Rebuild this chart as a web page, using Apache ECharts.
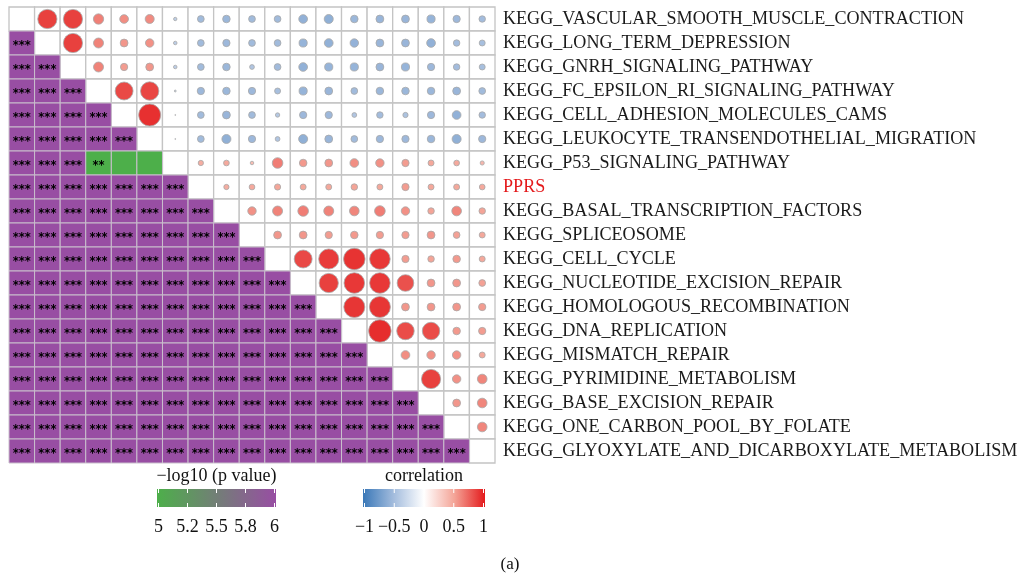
<!DOCTYPE html>
<html>
<head>
<meta charset="utf-8">
<script src="https://cdn.jsdelivr.net/npm/echarts@6/dist/echarts.min.js"></script>
<style>
  html, body { margin: 0; padding: 0; background: #fff; }
  #chart { width: 1021px; height: 576px; }
</style>
</head>
<body>
<div id="chart"></div>
<script>
// Pathway names (rows top to bottom, columns left to right)
const pathways = [
  'KEGG_VASCULAR_SMOOTH_MUSCLE_CONTRACTION',
  'KEGG_LONG_TERM_DEPRESSION',
  'KEGG_GNRH_SIGNALING_PATHWAY',
  'KEGG_FC_EPSILON_RI_SIGNALING_PATHWAY',
  'KEGG_CELL_ADHESION_MOLECULES_CAMS',
  'KEGG_LEUKOCYTE_TRANSENDOTHELIAL_MIGRATION',
  'KEGG_P53_SIGNALING_PATHWAY',
  'PPRS',
  'KEGG_BASAL_TRANSCRIPTION_FACTORS',
  'KEGG_SPLICEOSOME',
  'KEGG_CELL_CYCLE',
  'KEGG_NUCLEOTIDE_EXCISION_REPAIR',
  'KEGG_HOMOLOGOUS_RECOMBINATION',
  'KEGG_DNA_REPLICATION',
  'KEGG_MISMATCH_REPAIR',
  'KEGG_PYRIMIDINE_METABOLISM',
  'KEGG_BASE_EXCISION_REPAIR',
  'KEGG_ONE_CARBON_POOL_BY_FOLATE',
  'KEGG_GLYOXYLATE_AND_DICARBOXYLATE_METABOLISM'
];
const highlighted = 'PPRS';

// Correlation, upper triangle: row i holds columns i+1 .. 18
const corrUpper = [
  [0.86, 0.86, 0.63, 0.58, 0.59, -0.36, -0.51, -0.54, -0.51, -0.51, -0.58, -0.59, -0.54, -0.55, -0.55, -0.56, -0.53, -0.50],
  [0.86, 0.62, 0.55, 0.57, -0.37, -0.51, -0.53, -0.51, -0.51, -0.56, -0.58, -0.57, -0.55, -0.55, -0.58, -0.50, -0.48],
  [0.62, 0.53, 0.55, -0.37, -0.51, -0.54, -0.43, -0.51, -0.58, -0.56, -0.56, -0.55, -0.56, -0.53, -0.50, -0.48],
  [0.83, 0.84, -0.27, -0.53, -0.54, -0.53, -0.48, -0.56, -0.55, -0.51, -0.54, -0.54, -0.54, -0.55, -0.51],
  [0.92, -0.19, -0.51, -0.55, -0.51, -0.41, -0.53, -0.53, -0.43, -0.50, -0.45, -0.53, -0.58, -0.50],
  [-0.19, -0.51, -0.59, -0.53, -0.43, -0.59, -0.55, -0.51, -0.53, -0.53, -0.54, -0.59, -0.53],
  [0.45, 0.47, 0.37, 0.64, 0.54, 0.55, 0.58, 0.57, 0.53, 0.48, 0.47, 0.40],
  [0.45, 0.47, 0.49, 0.48, 0.48, 0.50, 0.48, 0.53, 0.48, 0.48, 0.47],
  [0.57, 0.62, 0.64, 0.62, 0.61, 0.64, 0.57, 0.50, 0.61, 0.50],
  [0.55, 0.55, 0.53, 0.54, 0.53, 0.53, 0.55, 0.51, 0.48],
  [0.83, 0.88, 0.91, 0.89, 0.53, 0.50, 0.54, 0.48],
  [0.86, 0.89, 0.89, 0.80, 0.55, 0.55, 0.51],
  [0.90, 0.90, 0.55, 0.55, 0.55, 0.53],
  [0.93, 0.82, 0.82, 0.54, 0.53],
  [0.58, 0.57, 0.57, 0.48],
  [0.86, 0.57, 0.61],
  [0.55, 0.61],
  [0.61]
];

// -log10(p value), lower triangle: row i holds columns 0 .. i-1
const logPLower = [
  [],
  [6],
  [6, 6],
  [6, 6, 6],
  [6, 6, 6, 6],
  [6, 6, 6, 6, 6],
  [6, 6, 6, 2.4, 0.9, 0.8],
  [6, 6, 6, 6, 6, 6, 6],
  [6, 6, 6, 6, 6, 6, 6, 6],
  [6, 6, 6, 6, 6, 6, 6, 6, 6],
  [6, 6, 6, 6, 6, 6, 6, 6, 6, 6],
  [6, 6, 6, 6, 6, 6, 6, 6, 6, 6, 6],
  [6, 6, 6, 6, 6, 6, 6, 6, 6, 6, 6, 6],
  [6, 6, 6, 6, 6, 6, 6, 6, 6, 6, 6, 6, 6],
  [6, 6, 6, 6, 6, 6, 6, 6, 6, 6, 6, 6, 6, 6],
  [6, 6, 6, 6, 6, 6, 6, 6, 6, 6, 6, 6, 6, 6, 6],
  [6, 6, 6, 6, 6, 6, 6, 6, 6, 6, 6, 6, 6, 6, 6, 6],
  [6, 6, 6, 6, 6, 6, 6, 6, 6, 6, 6, 6, 6, 6, 6, 6, 6],
  [6, 6, 6, 6, 6, 6, 6, 6, 6, 6, 6, 6, 6, 6, 6, 6, 6, 6]
];

// Legend tick labels
const pTicks = ['5', '5.2', '5.5', '5.8', '6'];
const corrTicks = ['\u22121', '\u22120.5', '0', '0.5', '1'];

const pColors = ['#4DAF4A', '#984EA3'];
const corrColors = ['#3A78B8', '#A3BCDD', '#FFFFFF', '#F4A497', '#E41A1C'];
const serif = '"Liberation Serif", "DejaVu Serif", serif';

// Build series data from the arrays
const n = pathways.length;
const blankCells = [];
const pCells = [];
const circles = [];
for (let i = 0; i < n; i++) {
  for (let j = 0; j < n; j++) {
    if (j < i) pCells.push([j, i, logPLower[i][j]]);
    else blankCells.push([j, i, 0]);
    if (j > i) circles.push([j, i, corrUpper[i][j - i - 1]]);
  }
}

function stars(v) {
  if (v > 3) return '***';
  if (v > 2) return '**';
  if (v > 1.301) return '*';
  return '';
}

function cellRect(api) {
  const c = api.coord([api.value(0), api.value(1)]);
  const s = api.size([1, 1]);
  return { x: c[0] - s[0] / 2, y: c[1] - s[1] / 2, width: s[0], height: s[1], cx: c[0], cy: c[1] };
}

const chart = echarts.init(document.getElementById('chart'));

// Legend colour bars
const gx1 = 157, gw1 = 119, gx2 = 363, gw2 = 122, gy = 489, gh = 18;
function legendGraphics(x, w, colors, ticks, title) {
  const stops = colors.map((c, k) => ({ offset: k / (colors.length - 1), color: c }));
  const els = [
    { type: 'text', x: x + w / 2, y: gy - 13, style: { text: title, font: '18px ' + serif, fill: '#111', align: 'center', verticalAlign: 'middle' } },
    { type: 'rect', shape: { x: x, y: gy, width: w, height: gh }, style: { fill: new echarts.graphic.LinearGradient(0, 0, 1, 0, stops) } }
  ];
  ticks.forEach((t, k) => {
    const tx = x + 1.5 + (w - 3) * k / (ticks.length - 1);
    els.push({ type: 'line', shape: { x1: tx, y1: gy, x2: tx, y2: gy + 4 }, style: { stroke: '#fff', lineWidth: 1 } });
    els.push({ type: 'line', shape: { x1: tx, y1: gy + gh - 4, x2: tx, y2: gy + gh }, style: { stroke: '#fff', lineWidth: 1 } });
    els.push({ type: 'text', x: tx, y: gy + gh + 20, style: { text: t, font: '18px ' + serif, fill: '#111', align: 'center', verticalAlign: 'middle' } });
  });
  return els;
}

const option = {
  animation: false,
  backgroundColor: '#fff',
  grid: { left: 9, top: 7, width: 486, height: 456, containLabel: false, outerBoundsMode: 'none' },
  xAxis: {
    type: 'category', data: pathways, show: false
  },
  yAxis: {
    type: 'category', inverse: true, position: 'right',
    data: pathways.map(p => p === highlighted ? { value: p, textStyle: { color: '#E41A1C' } } : p),
    axisLine: { show: false }, axisTick: { show: false }, splitLine: { show: false },
    axisLabel: { fontFamily: serif, fontSize: 18.1, color: '#1a1a1a', margin: 8 }
  },
  visualMap: [
    { type: 'continuous', show: false, min: 5, max: 6, dimension: 2, seriesIndex: 1, inRange: { color: pColors } },
    { type: 'continuous', show: false, min: -1, max: 1, dimension: 2, seriesIndex: 2, inRange: { color: corrColors } }
  ],
  series: [
    {
      type: 'custom', data: blankCells, encode: { x: 0, y: 1 },
      renderItem: function (params, api) {
        const r = cellRect(api);
        return { type: 'rect', shape: { x: r.x, y: r.y, width: r.width, height: r.height },
          style: { fill: '#fff', stroke: '#c4c4c4', lineWidth: 1.3 } };
      }
    },
    {
      type: 'custom', data: pCells, encode: { x: 0, y: 1 },
      renderItem: function (params, api) {
        const r = cellRect(api);
        return { type: 'group', children: [
          { type: 'rect', shape: { x: r.x, y: r.y, width: r.width, height: r.height },
            style: { fill: api.visual('color'), stroke: '#c9bfcc', lineWidth: 1 } },
          { type: 'text', style: { text: stars(api.value(2)), x: r.cx, y: r.cy + 3, align: 'center', verticalAlign: 'middle',
            font: 'bold 11.5px "DejaVu Sans", sans-serif', fill: '#000' } }
        ] };
      }
    },
    {
      type: 'scatter', data: circles, encode: { x: 0, y: 1 },
      symbol: 'circle',
      symbolSize: function (v) { return 26 * v[2] * v[2]; },
      itemStyle: { borderColor: '#a8a8a8', borderWidth: 0.8, opacity: 1 }
    }
  ],
  graphic: [].concat(
    legendGraphics(gx1, gw1, pColors, pTicks, '\u2212log10 (p value)'),
    legendGraphics(gx2, gw2, corrColors, corrTicks, 'correlation'),
    [{ type: 'text', x: 510, y: 565, style: { text: '(a)', font: '17px ' + serif, fill: '#111', align: 'center', verticalAlign: 'middle' } }]
  )
};
chart.setOption(option);
</script>
</body>
</html>
